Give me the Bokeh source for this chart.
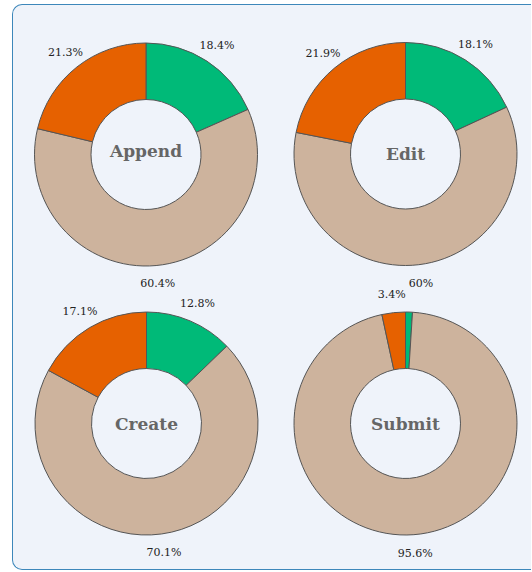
import math
from bokeh.plotting import figure
from bokeh.models import Range1d, ColumnDataSource
from bokeh.core.properties import value
from bokeh.embed import file_html
from bokeh.resources import INLINE

# ---- data ----
titles = ["Append", "Edit", "Create", "Submit"]
categories = ["green", "tan", "orange"]
green_vals = [18.4, 18.1, 12.8, 1.0]
tan_vals = [60.4, 60.0, 70.1, 95.6]
orange_vals = [21.3, 21.9, 17.1, 3.4]
colors = ["#00ba78", "#cdb39d", "#e66100"]

# ---- layout (page pixels) ----
W, H = 519, 566           # inner figure size
OX, OY = 13, 5            # page position of figure's inner top-left
BG = "#eff3fa"
BORDER = "1px solid #3d87ba"
centers_px = [(145.5, 154), (405, 153.5), (146, 423), (405, 423)]
R_OUT, R_IN, R_LAB = 111.5, 55, 130

def to_data(sx, sy):
    return sx - OX, (OY + H) - sy

p = figure(width=W, height=H, toolbar_location=None, output_backend="svg",
           x_range=Range1d(0, W), y_range=Range1d(0, H),
           x_axis_type=None, y_axis_type=None, min_border=0,
           background_fill_color=None, border_fill_color=None,
           outline_line_color=None,
           styles={"position": "absolute", "left": "12px", "top": "4px",
                   "border-top": BORDER, "border-left": BORDER,
                   "border-bottom": BORDER,
                   "border-radius": "10px 0px 0px 10px",
                   "background-color": BG})
p.grid.visible = False

label_font = value("DejaVu Serif")

for k, title in enumerate(titles):
    vals = [green_vals[k], tan_vals[k], orange_vals[k]]
    tot = sum(vals)
    cx, cy = to_data(*centers_px[k])
    starts, ends, lx, ly, ltxt = [], [], [], [], []
    cum = 0.0
    for v in vals:
        a0 = math.pi / 2 - 2 * math.pi * cum / tot
        a1 = math.pi / 2 - 2 * math.pi * (cum + v) / tot
        starts.append(a0)
        ends.append(a1)
        mid = (a0 + a1) / 2
        if v >= 2:
            lx.append(cx + R_LAB * math.cos(mid))
            ly.append(cy + R_LAB * math.sin(mid))
            ltxt.append(f"{v:g}%")
        cum += v
    src = ColumnDataSource(dict(x=[cx] * 3, y=[cy] * 3, s=starts, e=ends, c=colors))
    p.annular_wedge(x="x", y="y", inner_radius=R_IN, outer_radius=R_OUT,
                    start_angle="s", end_angle="e", direction="clock",
                    fill_color="c", line_color="#555555", line_width=1, source=src)
    p.text(x=lx, y=ly, text=ltxt, text_font=label_font, text_font_size="11px",
           text_color="#222222", text_align="center", text_baseline="middle")
    # centre title: centred on its glyph box (descenders lift the text a little)
    lift = -3.5 if any(ch in title for ch in "gjpqy") else 0
    p.text(x=[cx], y=[cy], text=[title], text_font=label_font, text_font_size="17px",
           text_font_style="bold", text_color="#666666", text_align="center",
           text_baseline="middle", y_offset=lift)

open("out.html", "w").write(file_html(p, INLINE))
